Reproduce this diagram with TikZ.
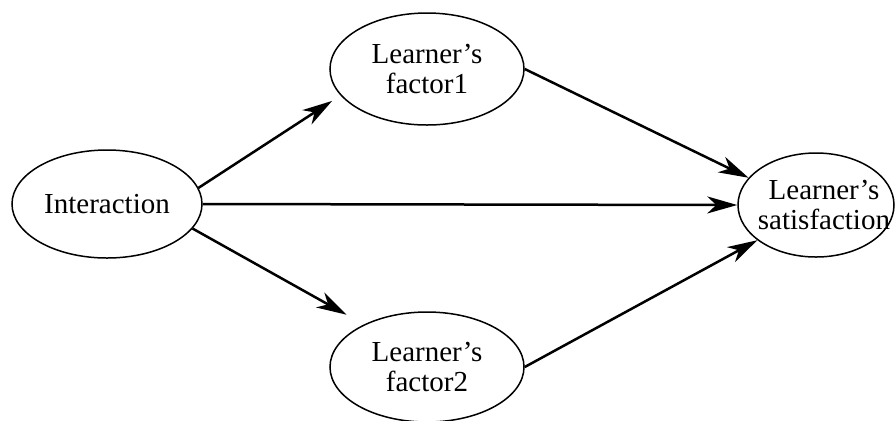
\documentclass[tikz,border=0pt]{standalone}
\usepackage{fontspec}
\setmainfont{Liberation Serif}
\usetikzlibrary{shapes.geometric,arrows.meta}
\begin{document}
\begin{tikzpicture}[x=0.5pt,y=-0.5pt,
  ell/.style={ellipse,draw,line width=0.75pt,inner sep=0pt,align=center,
    font=\fontsize{14.5pt}{15pt}\selectfont},
  conn/.style={line width=1.25pt,-{Stealth[length=15pt,width=8.5pt,inset=4.5pt]}}]
\useasboundingbox (0,0) rectangle (896,420);
\node[ell,minimum width=95pt,minimum height=54pt] (inter) at (107,204) {Interaction};
\node[ell,minimum width=97pt,minimum height=56pt] (f1) at (427,69) {Learner’s\\factor1};
\node[ell,minimum width=97pt,minimum height=55pt] (f2) at (427,367) {Learner’s\\factor2};
\node[ell,minimum width=78pt,minimum height=52pt,
  label={[align=center,xshift=4pt,font=\fontsize{14.5pt}{15pt}\selectfont]center:Learner’s\\satisfaction}] (sat) at (816,205) {};
\draw[conn,shorten >=5pt] (inter.10) -- (f1.197);
\draw[conn,shorten >=10pt] (inter.-16) -- (f2.146);
\draw[conn] (inter.east) -- (sat.west);
\draw[conn] (f1.east) -- (sat.158);
\draw[conn] (f2.east) -- (sat.211);
\end{tikzpicture}
\end{document}
